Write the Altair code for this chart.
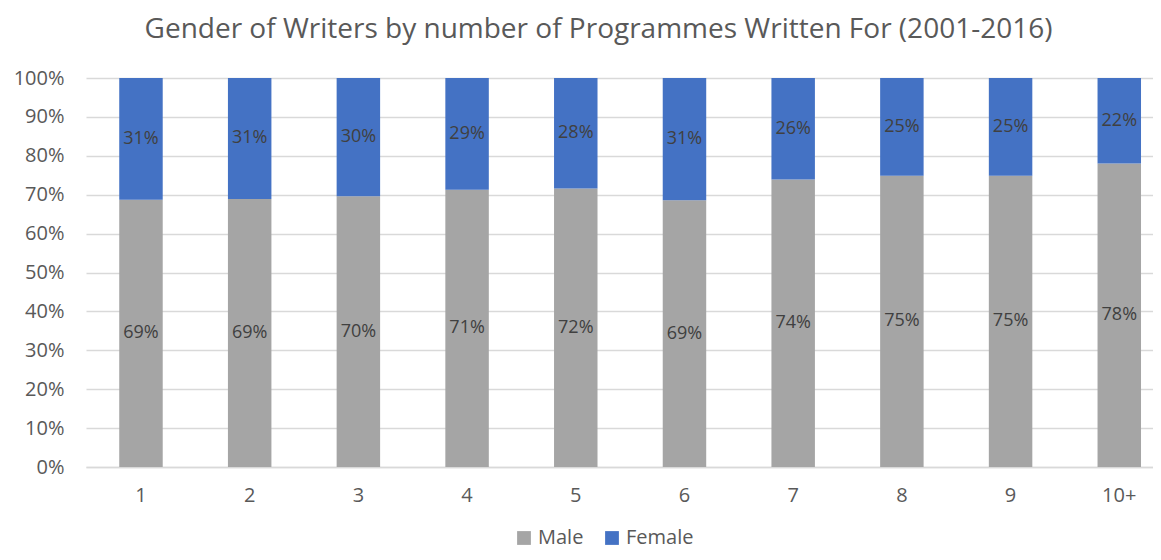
import altair as alt
import pandas as pd

categories = ["1", "2", "3", "4", "5", "6", "7", "8", "9", "10+"]
male = [68.7, 68.9, 69.6, 71.3, 71.6, 68.6, 73.9, 74.9, 74.9, 78.0]
female = [31.3, 31.1, 30.4, 28.7, 28.4, 31.4, 26.1, 25.1, 25.1, 22.0]
series = ["Male", "Female"]
colors = ["#A5A5A5", "#4472C4"]
ytick_values = [0, 10, 20, 30, 40, 50, 60, 70, 80, 90, 100]

rows = []
for c, m, f in zip(categories, male, female):
    rows.append({"cat": c, "gender": "Male",
                 "y0": 0.0, "y1": m, "mid": m / 2,
                 "label": f"{round(m):d}%"})
    rows.append({"cat": c, "gender": "Female",
                 "y0": m, "y1": m + f, "mid": m + f / 2,
                 "label": f"{round(f):d}%"})
df = pd.DataFrame(rows)

FONT = "Open Sans"

xaxis = alt.Axis(labelAngle=0, labelFontSize=20, labelColor="#595959",
                 labelFont=FONT, ticks=False, domainColor="#D9D9D9",
                 domainWidth=1.5, labelPadding=18, grid=False)
xscale = alt.Scale(paddingInner=0.6, paddingOuter=0.208, align=0.735)
yaxis = alt.Axis(values=ytick_values, labelExpr="datum.value + '%'",
                 labelOverlap=False, labelFlush=False,
                 labelFontSize=20, labelColor="#595959", labelFont=FONT,
                 ticks=False, domain=False, gridColor="#D9D9D9",
                 gridWidth=1.5, labelPadding=22)
yscale = alt.Scale(domain=[0, 100], nice=False)

bars = alt.Chart(df).mark_bar().encode(
    x=alt.X("cat:N", sort=categories, title=None, scale=xscale, axis=xaxis),
    y=alt.Y("y0:Q", title=None, scale=yscale, axis=yaxis),
    y2="y1:Q",
    color=alt.Color("gender:N", sort=series,
                    scale=alt.Scale(domain=series, range=colors),
                    legend=alt.Legend(title=None, orient="none", direction="horizontal",
                                      legendX=428, legendY=450,
                                      symbolType="square", symbolSize=190,
                                      symbolStrokeWidth=0,
                                      labelFontSize=20, labelColor="#595959",
                                      labelFont=FONT, columnPadding=18,
                                      labelOffset=4)),
)

labels = alt.Chart(df).mark_text(fontSize=18, color="#404040", font=FONT).encode(
    x=alt.X("cat:N", sort=categories, title=None, scale=xscale, axis=xaxis),
    y=alt.Y("mid:Q", title=None, scale=yscale, axis=yaxis),
    text="label:N",
)

chart = alt.layer(bars, labels).properties(
    width=1067,
    height=389,
    autosize=alt.AutoSizeParams(type="none"),
    padding={"left": 78, "top": 70, "right": 0, "bottom": 85},
    title=alt.TitleParams("Gender of Writers by number of Programmes Written For (2001-2016)",
                          fontSize=28, font=FONT, fontWeight="normal",
                          color="#595959", offset=24, dx=-21, anchor="middle"),
).configure_view(stroke=None)

chart.save("out.html", embed_options={"renderer": "svg", "actions": False})
